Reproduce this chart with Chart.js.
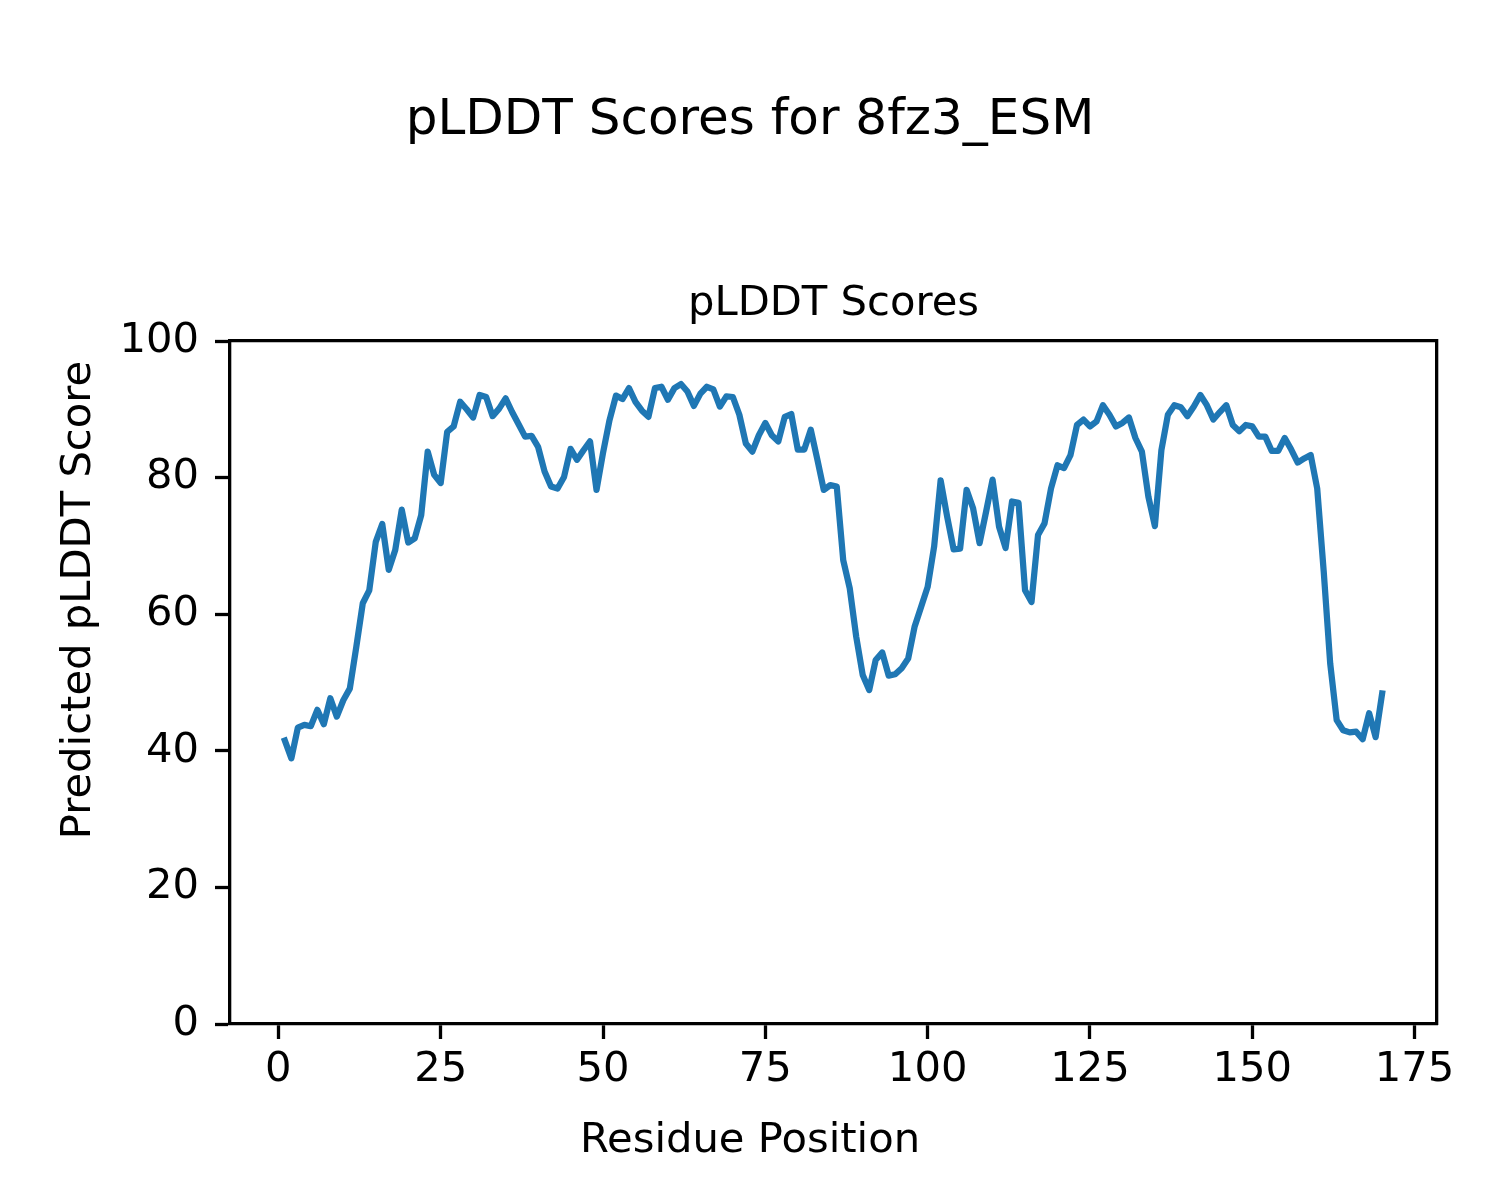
<!DOCTYPE html>
<html>
<head>
<meta charset="utf-8">
<title>pLDDT Scores for 8fz3_ESM</title>
<script src="https://cdn.jsdelivr.net/npm/chart.js@4.4.1/dist/chart.umd.min.js"></script>
<style>
  html, body { margin: 0; padding: 0; background: #fff; }
  canvas { display: block; }
</style>
</head>
<body>
<canvas id="chartPlddt" width="1500" height="1200"></canvas>
<script>
// pLDDT per residue (residues 1..170)
const plddtScores = [
  41.5, 38.9, 43.4, 43.8, 43.6, 46.0, 43.9, 47.7, 45.0, 47.4,
  49.1, 55.2, 61.6, 63.5, 70.6, 73.2, 66.5, 69.4, 75.3, 70.5,
  71.1, 74.5, 83.8, 80.4, 79.2, 86.7, 87.5, 91.1, 90.0, 88.8,
  92.1, 91.8, 89.0, 90.1, 91.6, 89.6, 87.8, 86.0, 86.1, 84.5,
  80.9, 78.7, 78.4, 80.1, 84.2, 82.6, 84.0, 85.3, 78.2, 83.6,
  88.4, 92.0, 91.5, 93.1, 91.1, 89.8, 88.9, 93.1, 93.3, 91.4,
  93.1, 93.7, 92.6, 90.5, 92.3, 93.3, 92.9, 90.4, 91.9, 91.8,
  89.2, 85.0, 83.8, 86.2, 88.0, 86.2, 85.3, 88.9, 89.3, 84.1,
  84.1, 87.0, 82.7, 78.2, 78.9, 78.7, 67.9, 63.8, 56.7, 51.1,
  48.9, 53.3, 54.4, 51.0, 51.2, 52.1, 53.5, 58.2, 61.1, 64.0,
  69.9, 79.6, 74.3, 69.5, 69.6, 78.2, 75.5, 70.4, 75.0, 79.7,
  72.8, 69.7, 76.5, 76.3, 63.5, 61.8, 71.6, 73.3, 78.4, 81.8,
  81.4, 83.3, 87.7, 88.5, 87.5, 88.2, 90.6, 89.2, 87.5, 88.0,
  88.8, 85.8, 83.8, 77.2, 72.9, 84.0, 89.2, 90.6, 90.3, 89.0,
  90.4, 92.1, 90.6, 88.5, 89.6, 90.6, 87.7, 86.8, 87.7, 87.5,
  86.0, 86.0, 83.9, 83.9, 85.8, 84.1, 82.2, 82.8, 83.3, 78.4,
  66.3, 52.8, 44.5, 43.0, 42.7, 42.8, 41.7, 45.5, 42.0, 48.4
];
const residuePositions = plddtScores.map((_, i) => i + 1);

const xTicks = [0, 25, 50, 75, 100, 125, 150, 175];
const yTicks = [0, 20, 40, 60, 80, 100];

const FONT = "'DejaVu Sans', 'Liberation Sans', sans-serif";
const BLUE = "#1f77b4";

// matplotlib-style 5% margins around the data on x
const xSpan = residuePositions[residuePositions.length - 1] - residuePositions[0];
const xMin = residuePositions[0] - 0.05 * xSpan;
const xMax = residuePositions[residuePositions.length - 1] + 0.05 * xSpan;

const tickFont = { family: FONT, size: 41.7 };

// x / y labels are figure-level (centred on the canvas, not on the axes)
const figureLabels = {
  id: "figureLabels",
  afterDraw(chart) {
    const ctx = chart.ctx;
    ctx.save();
    ctx.fillStyle = "#000";
    ctx.font = "41.7px " + FONT;
    ctx.textAlign = "center";
    ctx.textBaseline = "alphabetic";
    ctx.fillText("Residue Position", chart.width / 2, 1151.7);
    ctx.translate(90, chart.height / 2);
    ctx.rotate(-Math.PI / 2);
    ctx.fillText("Predicted pLDDT Score", 0, 0);
    ctx.restore();
  }
};

new Chart(document.getElementById("chartPlddt"), {
  type: "line",
  data: {
    datasets: [{
      label: "pLDDT",
      data: residuePositions.map((r, i) => ({ x: r, y: plddtScores[i] })),
      borderColor: BLUE,
      borderWidth: 6.25,
      borderJoinStyle: "round",
      borderCapStyle: "square",
      pointRadius: 0,
      tension: 0,
      fill: false
    }]
  },
  plugins: [figureLabels],
  options: {
    responsive: false,
    animation: false,
    events: [],
    layout: { padding: 0 },
    plugins: {
      legend: { display: false },
      tooltip: { enabled: false },
      title: {
        display: true,
        text: "pLDDT Scores for 8fz3_ESM",
        color: "#000",
        font: { family: FONT, size: 50, weight: "normal", lineHeight: 1.2 },
        padding: { top: 91, bottom: 0 }
      }
    },
    scales: {
      x: {
        type: "linear",
        position: "bottom",
        min: xMin,
        max: xMax,
        afterBuildTicks: s => { s.ticks = xTicks.map(v => ({ value: v })); },
        afterFit: s => { s.height = 176; },
        grid: {
          display: true,
          drawOnChartArea: false,
          drawTicks: true,
          tickLength: 15,
          tickWidth: 3.3,
          tickColor: "#000"
        },
        border: { display: true, color: "#000", width: 3.3 },
        ticks: {
          color: "#000",
          font: tickFont,
          padding: 6,
          maxRotation: 0,
          autoSkip: false
        },
        title: { display: false }
      },
      // holds the axes title and the top spine
      xTop: {
        type: "linear",
        position: "top",
        min: xMin,
        max: xMax,
        afterFit: s => { s.height = 190; },
        grid: { display: false },
        border: { display: true, color: "#000", width: 3.3 },
        ticks: { display: false },
        title: {
          display: true,
          text: "pLDDT Scores",
          color: "#000",
          font: { family: FONT, size: 41.7, lineHeight: 1.2 },
          padding: { top: 128.6, bottom: 0 }
        }
      },
      y: {
        type: "linear",
        position: "left",
        min: 0,
        max: 100,
        afterBuildTicks: s => { s.ticks = yTicks.map(v => ({ value: v })); },
        afterFit: s => { s.width = 230; },
        grid: {
          display: true,
          drawOnChartArea: false,
          drawTicks: true,
          tickLength: 15,
          tickWidth: 3.3,
          tickColor: "#000"
        },
        border: { display: true, color: "#000", width: 3.3 },
        ticks: {
          color: "#000",
          font: tickFont,
          padding: 16
        },
        title: { display: false }
      },
      // right spine only
      yRight: {
        type: "linear",
        position: "right",
        min: 0,
        max: 100,
        afterFit: s => { s.width = 63; },
        grid: { display: false },
        border: { display: true, color: "#000", width: 3.3 },
        ticks: { display: false }
      }
    }
  }
});
</script>
</body>
</html>
